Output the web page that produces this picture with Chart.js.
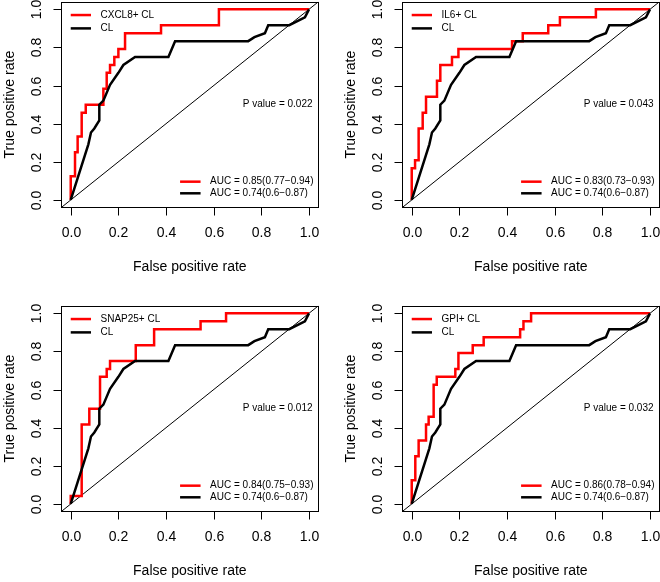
<!DOCTYPE html>
<html>
<head>
<meta charset="utf-8">
<script src="https://cdn.jsdelivr.net/npm/chart.js@4/dist/chart.umd.min.js"></script>
<style>
  html, body { margin: 0; padding: 0; background: #fff; }
  #wrap { position: relative; width: 660px; height: 582px; overflow: hidden; }
  canvas { position: absolute; }
</style>
</head>
<body>
<div id="wrap">
  <canvas id="p1" width="330" height="291" style="left:0;top:0"></canvas>
  <canvas id="p2" width="330" height="291" style="left:330px;top:0"></canvas>
  <canvas id="p3" width="330" height="291" style="left:0;top:291px"></canvas>
  <canvas id="p4" width="330" height="291" style="left:330px;top:291px"></canvas>
</div>
<script>
/* ROC curves: marker + CL vs CL alone */

// --- data ---
let tickValues = [0, 0.2, 0.4, 0.6, 0.8, 1.0];
let tickLabels = ["0.0", "0.2", "0.4", "0.6", "0.8", "1.0"];

// CL alone (same in all four panels)
let clX = [0, 0.074, 0.085, 0.099, 0.12, 0.12, 0.137, 0.165, 0.2, 0.221, 0.27, 0.41, 0.438, 0.745, 0.771, 0.815, 0.829, 0.917, 0.983, 1];
let clY = [0, 0.292, 0.354, 0.375, 0.417, 0.5, 0.521, 0.604, 0.667, 0.708, 0.75, 0.75, 0.833, 0.833, 0.854, 0.875, 0.917, 0.917, 0.958, 1];

// combined models (step curves, point = end of each horizontal run)
let cxcl8X = [0, 0.018, 0.029, 0.046, 0.063, 0.137, 0.151, 0.165, 0.183, 0.2, 0.228, 0.379, 0.622, 1];
let cxcl8Y = [0, 0.125, 0.25, 0.333, 0.458, 0.5, 0.583, 0.667, 0.708, 0.75, 0.792, 0.875, 0.917, 1];

let il6X = [0, 0.014, 0.029, 0.046, 0.06, 0.106, 0.12, 0.169, 0.196, 0.421, 0.466, 0.573, 0.622, 0.773, 1];
let il6Y = [0, 0.167, 0.208, 0.375, 0.458, 0.542, 0.625, 0.708, 0.75, 0.792, 0.833, 0.875, 0.917, 0.958, 1];

let snap25X = [0, 0.046, 0.078, 0.123, 0.151, 0.165, 0.273, 0.35, 0.545, 0.652, 1];
let snap25Y = [0, 0.042, 0.417, 0.5, 0.667, 0.708, 0.75, 0.833, 0.917, 0.958, 1];

let gpiX = [0, 0.015, 0.029, 0.06, 0.071, 0.092, 0.105, 0.183, 0.196, 0.256, 0.302, 0.455, 0.469, 0.501, 1];
let gpiY = [0, 0.125, 0.25, 0.333, 0.417, 0.458, 0.625, 0.667, 0.708, 0.792, 0.833, 0.875, 0.917, 0.958, 1];

let diagX = [-0.04, 1.04];
let diagY = [-0.04, 1.04];

let modelNames = ["CXCL8+ CL", "IL6+ CL", "SNAP25+ CL", "GPI+ CL"];
let modelAuc = ["AUC = 0.85(0.77\u22120.94)", "AUC = 0.83(0.73\u22120.93)", "AUC = 0.84(0.75\u22120.93)", "AUC = 0.86(0.78\u22120.94)"];
let clName = "CL";
let clAuc = "AUC = 0.74(0.6\u22120.87)";
let pValues = ["P value = 0.022", "P value = 0.043", "P value = 0.012", "P value = 0.032"];

let FONT = "'Liberation Sans', Arial, Helvetica, sans-serif";

function pts(xs, ys) {
  return xs.map((v, i) => ({ x: v, y: ys[i] }));
}

// box, ticks, axis titles, legends, p value
const rocDecor = {
  id: "rocDecor",
  afterDraw(chart, args, opts) {
    let ctx = chart.ctx;
    let a = chart.chartArea;
    let xs = chart.scales.x;
    let ys = chart.scales.y;
    ctx.save();
    ctx.strokeStyle = "#000";
    ctx.fillStyle = "#000";
    ctx.lineWidth = 1;
    let L = Math.round(a.left) + 0.5, R = Math.round(a.right) - 0.5;
    let T = Math.round(a.top) + 0.5, B = Math.round(a.bottom) - 0.5;
    ctx.strokeRect(L, T, R - L, B - T);

    ctx.font = "14px " + FONT;
    ctx.textAlign = "center";
    ctx.textBaseline = "middle";
    tickValues.forEach((v, i) => {
      let px = Math.round(xs.getPixelForValue(v)) + 0.5;
      ctx.beginPath();
      ctx.moveTo(px, B);
      ctx.lineTo(px, B + 8);
      ctx.stroke();
      ctx.fillText(tickLabels[i], px, B + 26);

      let py = Math.round(ys.getPixelForValue(v)) + 0.5;
      ctx.beginPath();
      ctx.moveTo(L, py);
      ctx.lineTo(L - 8, py);
      ctx.stroke();
      ctx.save();
      ctx.translate(L - 24, py);
      ctx.rotate(-Math.PI / 2);
      ctx.fillText(tickLabels[i], 0, 0);
      ctx.restore();
    });

    ctx.fillText("False positive rate", (a.left + a.right) / 2, B + 60);
    ctx.save();
    ctx.translate(L - 51, (a.top + a.bottom) / 2);
    ctx.rotate(-Math.PI / 2);
    ctx.fillText("True positive rate", 0, 0);
    ctx.restore();

    // legends
    ctx.font = "10px " + FONT;
    ctx.textAlign = "left";
    ctx.lineWidth = 2.5;
    let legendItem = (x0, x1, xt, yv, color, text) => {
      let py = ys.getPixelForValue(yv);
      ctx.strokeStyle = color;
      ctx.beginPath();
      ctx.moveTo(xs.getPixelForValue(x0), py);
      ctx.lineTo(xs.getPixelForValue(x1), py);
      ctx.stroke();
      ctx.fillText(text, xs.getPixelForValue(xt), py);
    };
    legendItem(0, 0.085, 0.125, 0.97, "#ff0000", opts.name);
    legendItem(0, 0.085, 0.125, 0.90, "#000000", clName);
    legendItem(0.459, 0.545, 0.585, 0.096, "#ff0000", opts.auc);
    legendItem(0.459, 0.545, 0.585, 0.035, "#000000", clAuc);

    ctx.textAlign = "right";
    ctx.fillText(opts.p, xs.getPixelForValue(1.015), ys.getPixelForValue(0.5));
    ctx.restore();
  }
};

let panelX = [cxcl8X, il6X, snap25X, gpiX];
let panelY = [cxcl8Y, il6Y, snap25Y, gpiY];
let pads = [
  { left: 61.2, right: 11.5, top: 1.7, bottom: 83.4 },
  { left: 72.2, right: 0.5, top: 1.7, bottom: 83.4 },
  { left: 61.2, right: 11.5, top: 14.7, bottom: 70.4 },
  { left: 72.2, right: 0.5, top: 14.7, bottom: 70.4 }
];

["p1", "p2", "p3", "p4"].forEach(function (id, k) {
  new Chart(document.getElementById(id), {
    type: "scatter",
    data: {
      datasets: [
        {
          data: pts(clX, clY),
          showLine: true,
          borderColor: "#000000",
          borderWidth: 2.5,
          pointRadius: 0,
          tension: 0
        },
        {
          data: pts(panelX[k], panelY[k]),
          showLine: true,
          stepped: "after",
          borderColor: "#ff0000",
          borderWidth: 2.5,
          pointRadius: 0
        },
        {
          data: pts(diagX, diagY),
          showLine: true,
          borderColor: "#000000",
          borderWidth: 1,
          pointRadius: 0
        }
      ]
    },
    options: {
      responsive: false,
      animation: false,
      devicePixelRatio: 1,
      layout: { padding: pads[k] },
      scales: {
        x: { type: "linear", min: -0.04, max: 1.04, display: false },
        y: { type: "linear", min: -0.04, max: 1.04, display: false }
      },
      plugins: {
        legend: { display: false },
        tooltip: { enabled: false },
        rocDecor: { name: modelNames[k], auc: modelAuc[k], p: pValues[k] }
      }
    },
    plugins: [rocDecor]
  });
});
</script>
</body>
</html>
